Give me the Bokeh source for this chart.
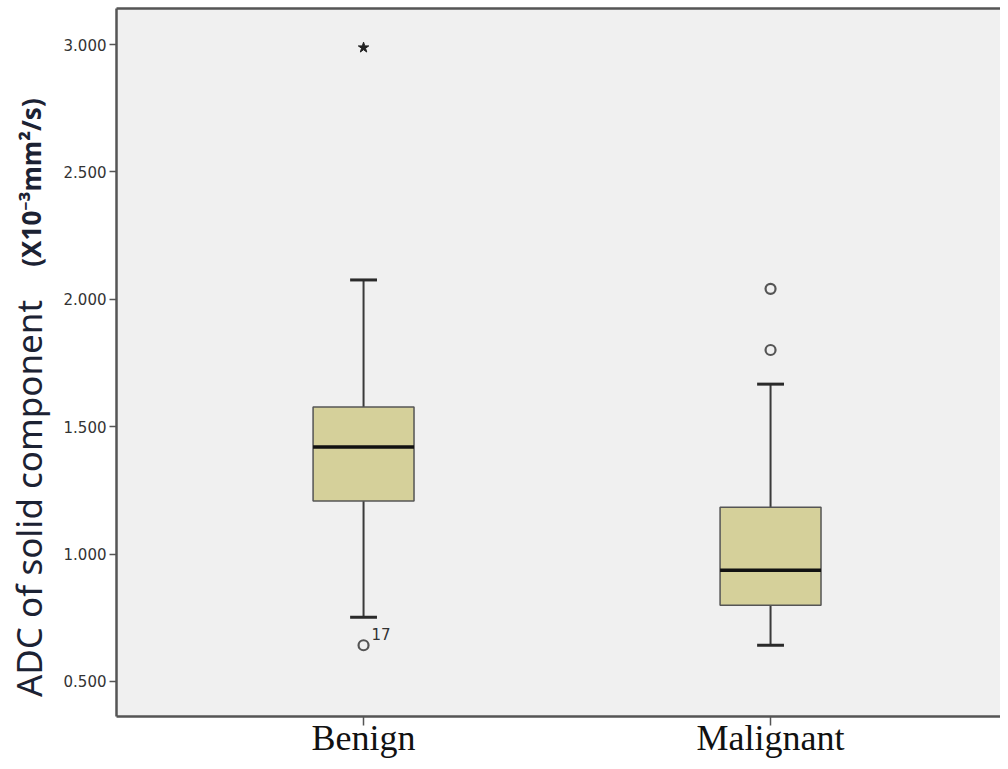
import math
from bokeh.plotting import figure
from bokeh.layouts import row
from bokeh.models import Range1d, LinearAxis, Label, FixedTicker, ColumnDataSource
from bokeh.core.properties import value
from bokeh.embed import file_html
from bokeh.resources import INLINE

# ---- data ----
categories = ["Benign", "Malignant"]
lower_whisker = [0.752, 0.642]
q1 = [1.208, 0.799]
median = [1.420, 0.936]
q3 = [1.577, 1.184]
upper_whisker = [2.076, 1.667]
outlier_group = ["Benign", "Malignant", "Malignant"]
outlier_value = [0.642, 2.041, 1.801]
outlier_label = ["17", "", ""]
extreme_group = ["Benign"]
extreme_value = [2.988]
y_ticks = [0.5, 1.0, 1.5, 2.0, 2.5, 3.0]
y_tick_labels = ["0.500", "1.000", "1.500", "2.000", "2.500", "3.000"]
y_title_main = "ADC of solid component"
y_title_unit = "(X10\u207b\u00b3mm\u00b2/s)"

H = 761
TW = 60            # width of the strip holding the y-axis title
W = 1000 - TW
left_b, right_b, top_b, bottom_b = 116 - TW, 0, 8, 45
x0, x1 = 0.393, 2.565
y0, y1 = 0.3624, 3.1415

# ---- strip with the y-axis title ----
t = figure(width=TW, height=H, output_backend="svg", toolbar_location=None,
           x_range=Range1d(0, 1), y_range=Range1d(0, 1),
           x_axis_type=None, y_axis_type=None,
           min_border_left=0, min_border_right=0, min_border_top=0, min_border_bottom=0,
           outline_line_color=None, background_fill_color="white", border_fill_color="white")
t.grid.visible = False
t.add_layout(Label(x=28, y=218, x_units="screen", y_units="screen",
                   text=y_title_main, angle=math.pi / 2,
                   text_align="center", text_baseline="middle",
                   text_font="Noto Sans", text_font_size="35px", text_color="#1c2233"))
t.add_layout(Label(x=30, y=534, x_units="screen", y_units="screen",
                   text=y_title_unit, angle=math.pi / 2,
                   text_align="center", text_baseline="middle",
                   text_font="Noto Sans", text_font_size="26px", text_font_style="bold",
                   text_color="#1c2233"))

# ---- main plot ----
p = figure(width=W, height=H, output_backend="svg", toolbar_location=None,
           x_range=Range1d(x0, x1), y_range=Range1d(y0, y1),
           min_border_left=left_b, min_border_right=right_b,
           min_border_top=top_b, min_border_bottom=bottom_b,
           background_fill_color="#f0f0f0", border_fill_color="white",
           outline_line_color=None)
p.grid.visible = False

xpos = [i + 1 for i in range(len(categories))]
xmap = {c: i + 1 for i, c in enumerate(categories)}
box_w = 0.248
cap_w = 0.066

src = ColumnDataSource(dict(x=xpos, q1=q1, q3=q3, med=median,
                            lo=lower_whisker, hi=upper_whisker))
p.segment(x0="x", y0="q3", x1="x", y1="hi", source=src, line_color="#3a3a3a", line_width=2)
p.segment(x0="x", y0="q1", x1="x", y1="lo", source=src, line_color="#3a3a3a", line_width=2)
capsrc = ColumnDataSource(dict(xa=[x - cap_w / 2 for x in xpos], xb=[x + cap_w / 2 for x in xpos],
                               lo=lower_whisker, hi=upper_whisker))
p.segment(x0="xa", y0="hi", x1="xb", y1="hi", source=capsrc, line_color="#2a2a2a", line_width=3)
p.segment(x0="xa", y0="lo", x1="xb", y1="lo", source=capsrc, line_color="#2a2a2a", line_width=3)
p.vbar(x="x", bottom="q1", top="q3", width=box_w, source=src,
       fill_color="#d5d09a", line_color="#555555", line_width=1.5)
medsrc = ColumnDataSource(dict(xa=[x - box_w / 2 for x in xpos], xb=[x + box_w / 2 for x in xpos], med=median))
p.segment(x0="xa", y0="med", x1="xb", y1="med", source=medsrc, line_color="#111111", line_width=3.5)

osrc = ColumnDataSource(dict(x=[xmap[g] for g in outlier_group], y=outlier_value, t=outlier_label))
p.scatter(x="x", y="y", source=osrc, marker="circle", size=10, fill_color=None,
          line_color="#555555", line_width=2.2)
p.text(x="x", y="y", text="t", source=osrc, x_offset=8, y_offset=-11,
       text_font=value("DejaVu Sans"), text_font_size="15px", text_color="#333333",
       text_baseline="middle", text_align="left")
esrc = ColumnDataSource(dict(x=[xmap[g] for g in extreme_group], y=extreme_value))
p.scatter(x="x", y="y", source=esrc, marker="star", size=11, fill_color="#222222",
          line_color="#222222")

for ax in (p.xaxis[0], p.yaxis[0]):
    ax.axis_line_color = "#555555"
    ax.axis_line_width = 2.5
    ax.major_tick_line_color = "#555555"
    ax.major_tick_line_width = 1.5
    ax.minor_tick_line_color = None
    ax.major_tick_in = 0

p.yaxis.ticker = FixedTicker(ticks=y_ticks)
p.yaxis.major_label_overrides = {tk: lb for tk, lb in zip(y_ticks, y_tick_labels)}
p.yaxis.major_tick_out = 7
p.yaxis.major_label_text_font = "DejaVu Sans"
p.yaxis.major_label_text_font_size = "15px"
p.yaxis.major_label_text_color = "#333333"
p.yaxis.major_label_standoff = 3

p.xaxis.ticker = FixedTicker(ticks=xpos)
p.xaxis.major_label_overrides = {x: c for x, c in zip(xpos, categories)}
p.xaxis.major_tick_out = 9
p.xaxis.major_label_text_font = "Liberation Serif"
p.xaxis.major_label_text_font_size = "36px"
p.xaxis.major_label_text_color = "#111111"
p.xaxis.major_label_standoff = -8

top_axis = LinearAxis(axis_line_color="#555555", axis_line_width=2.5,
                      major_tick_line_color=None, minor_tick_line_color=None,
                      major_label_text_font_size="0px", ticker=FixedTicker(ticks=[]))
p.add_layout(top_axis, "above")

layout = row(t, p, spacing=0)
open("out.html", "w").write(file_html(layout, INLINE))
